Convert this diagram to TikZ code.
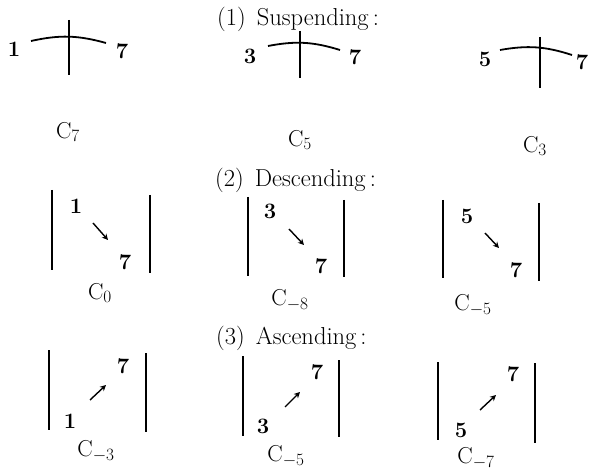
\documentclass[tikz,border=0pt]{standalone}
\usetikzlibrary{arrows.meta}
\begin{document}
\begin{tikzpicture}[x=1pt,y=-1pt,
  num/.style={font=\fontsize{22}{26}\selectfont\bfseries, inner sep=0pt},
  clabel/.style={font=\fontsize{23}{27}\selectfont, inner sep=0pt},
  head/.style={font=\fontsize{24.5}{29}\selectfont, inner sep=0pt, anchor=west},
  bar/.style={line width=1.8pt},
  arcline/.style={line width=1.8pt},
  arr/.style={line width=1.4pt, -{Stealth[length=6pt,width=6pt]}}]
\useasboundingbox (0,0) rectangle (589,470);
\fill[white] (0,0) rectangle (589,470);

% headings
\node[head] (h1) at (217,19) {(1)\hspace{0.45em}Suspending\,:};
\node[head] (h2) at (215,180) {(2)\hspace{0.45em}Descending\,:};
\node[head] (h3) at (216,338) {(3)\hspace{0.45em}Ascending\,:};

% Row 1: suspending
\node[num] (a1) at (14,49) {1};
\node[num] (a7) at (122,51) {7};
\coordinate (aL) at (31,41); \coordinate (aR) at (106,43);
\coordinate (aT) at (69,20); \coordinate (aB) at (69,75);
\draw[arcline] (aL) to[bend left=14] (aR);
\draw[arcline] (aT) -- (aB);
\node[clabel] (ca) at (68,132) {C$_7$};

\node[num] (b3) at (250,56) {3};
\node[num] (b7) at (355,57) {7};
\coordinate (bL) at (268,46); \coordinate (bR) at (340,50);
\coordinate (bT) at (300,31); \coordinate (bB) at (300,78);
\draw[arcline] (bL) to[bend left=14] (bR);
\draw[arcline] (bT) -- (bB);
\node[clabel] (cb) at (300,140) {C$_5$};

\node[num] (c5) at (485,59) {5};
\node[num] (c7) at (582,62) {7};
\coordinate (cL) at (500,50); \coordinate (cR) at (572,55);
\coordinate (cT) at (540,37); \coordinate (cB) at (540,88);
\draw[arcline] (cL) to[bend left=14] (cR);
\draw[arcline] (cT) -- (cB);
\node[clabel] (cc) at (535,146) {C$_3$};

% Row 2: descending
\coordinate (d1t) at (52,190); \coordinate (d1b) at (52,270);
\coordinate (d2t) at (150,195); \coordinate (d2b) at (150,273);
\draw[bar] (d1t) -- (d1b); \draw[bar] (d2t) -- (d2b);
\node[num] (d1) at (76,206) {1};
\node[num] (d7) at (125,262) {7};
\coordinate (dA) at (93,223); \coordinate (dB) at (108,240);
\draw[arr] (dA) -- (dB);
\node[clabel] (cd) at (100,293) {C$_0$};

\coordinate (e1t) at (248,197); \coordinate (e1b) at (248,276);
\coordinate (e2t) at (344,200); \coordinate (e2b) at (344,277);
\draw[bar] (e1t) -- (e1b); \draw[bar] (e2t) -- (e2b);
\node[num] (e3) at (270,211) {3};
\node[num] (e7) at (321,266) {7};
\coordinate (eA) at (289,229); \coordinate (eB) at (304,245);
\draw[arr] (eA) -- (eB);
\node[clabel] (ce) at (290,300) {C$_{-8}$};

\coordinate (f1t) at (443,200); \coordinate (f1b) at (443,278);
\coordinate (f2t) at (539,203); \coordinate (f2b) at (539,281);
\draw[bar] (f1t) -- (f1b); \draw[bar] (f2t) -- (f2b);
\node[num] (f5) at (467,216) {5};
\node[num] (f7) at (516,270) {7};
\coordinate (fA) at (485,233); \coordinate (fB) at (499,248);
\draw[arr] (fA) -- (fB);
\node[clabel] (cf) at (473,305) {C$_{-5}$};

% Row 3: ascending
\coordinate (g1t) at (49,350); \coordinate (g1b) at (49,430);
\coordinate (g2t) at (146,353); \coordinate (g2b) at (146,432);
\draw[bar] (g1t) -- (g1b); \draw[bar] (g2t) -- (g2b);
\node[num] (g7) at (123,366) {7};
\node[num] (g1) at (70,421) {1};
\coordinate (gA) at (90,400); \coordinate (gB) at (106,385);
\draw[arr] (gA) -- (gB);
\node[clabel] (cg) at (96,451) {C$_{-3}$};

\coordinate (h1t) at (243,356); \coordinate (h1b) at (243,436);
\coordinate (h2t) at (339,360); \coordinate (h2b) at (339,437);
\draw[bar] (h1t) -- (h1b); \draw[bar] (h2t) -- (h2b);
\node[num] (h7) at (317,372) {7};
\node[num] (hh3) at (263,426) {3};
\coordinate (hA) at (285,407); \coordinate (hB) at (300,392);
\draw[arr] (hA) -- (hB);
\node[clabel] (ch) at (286,456) {C$_{-5}$};

\coordinate (i1t) at (438,362); \coordinate (i1b) at (438,440);
\coordinate (i2t) at (535,363); \coordinate (i2b) at (535,443);
\draw[bar] (i1t) -- (i1b); \draw[bar] (i2t) -- (i2b);
\node[num] (i7) at (513,374) {7};
\node[num] (i5) at (461,430) {5};
\coordinate (iA) at (480,410); \coordinate (iB) at (496,395);
\draw[arr] (iA) -- (iB);
\node[clabel] (ci) at (476,458) {C$_{-7}$};
\end{tikzpicture}
\end{document}
